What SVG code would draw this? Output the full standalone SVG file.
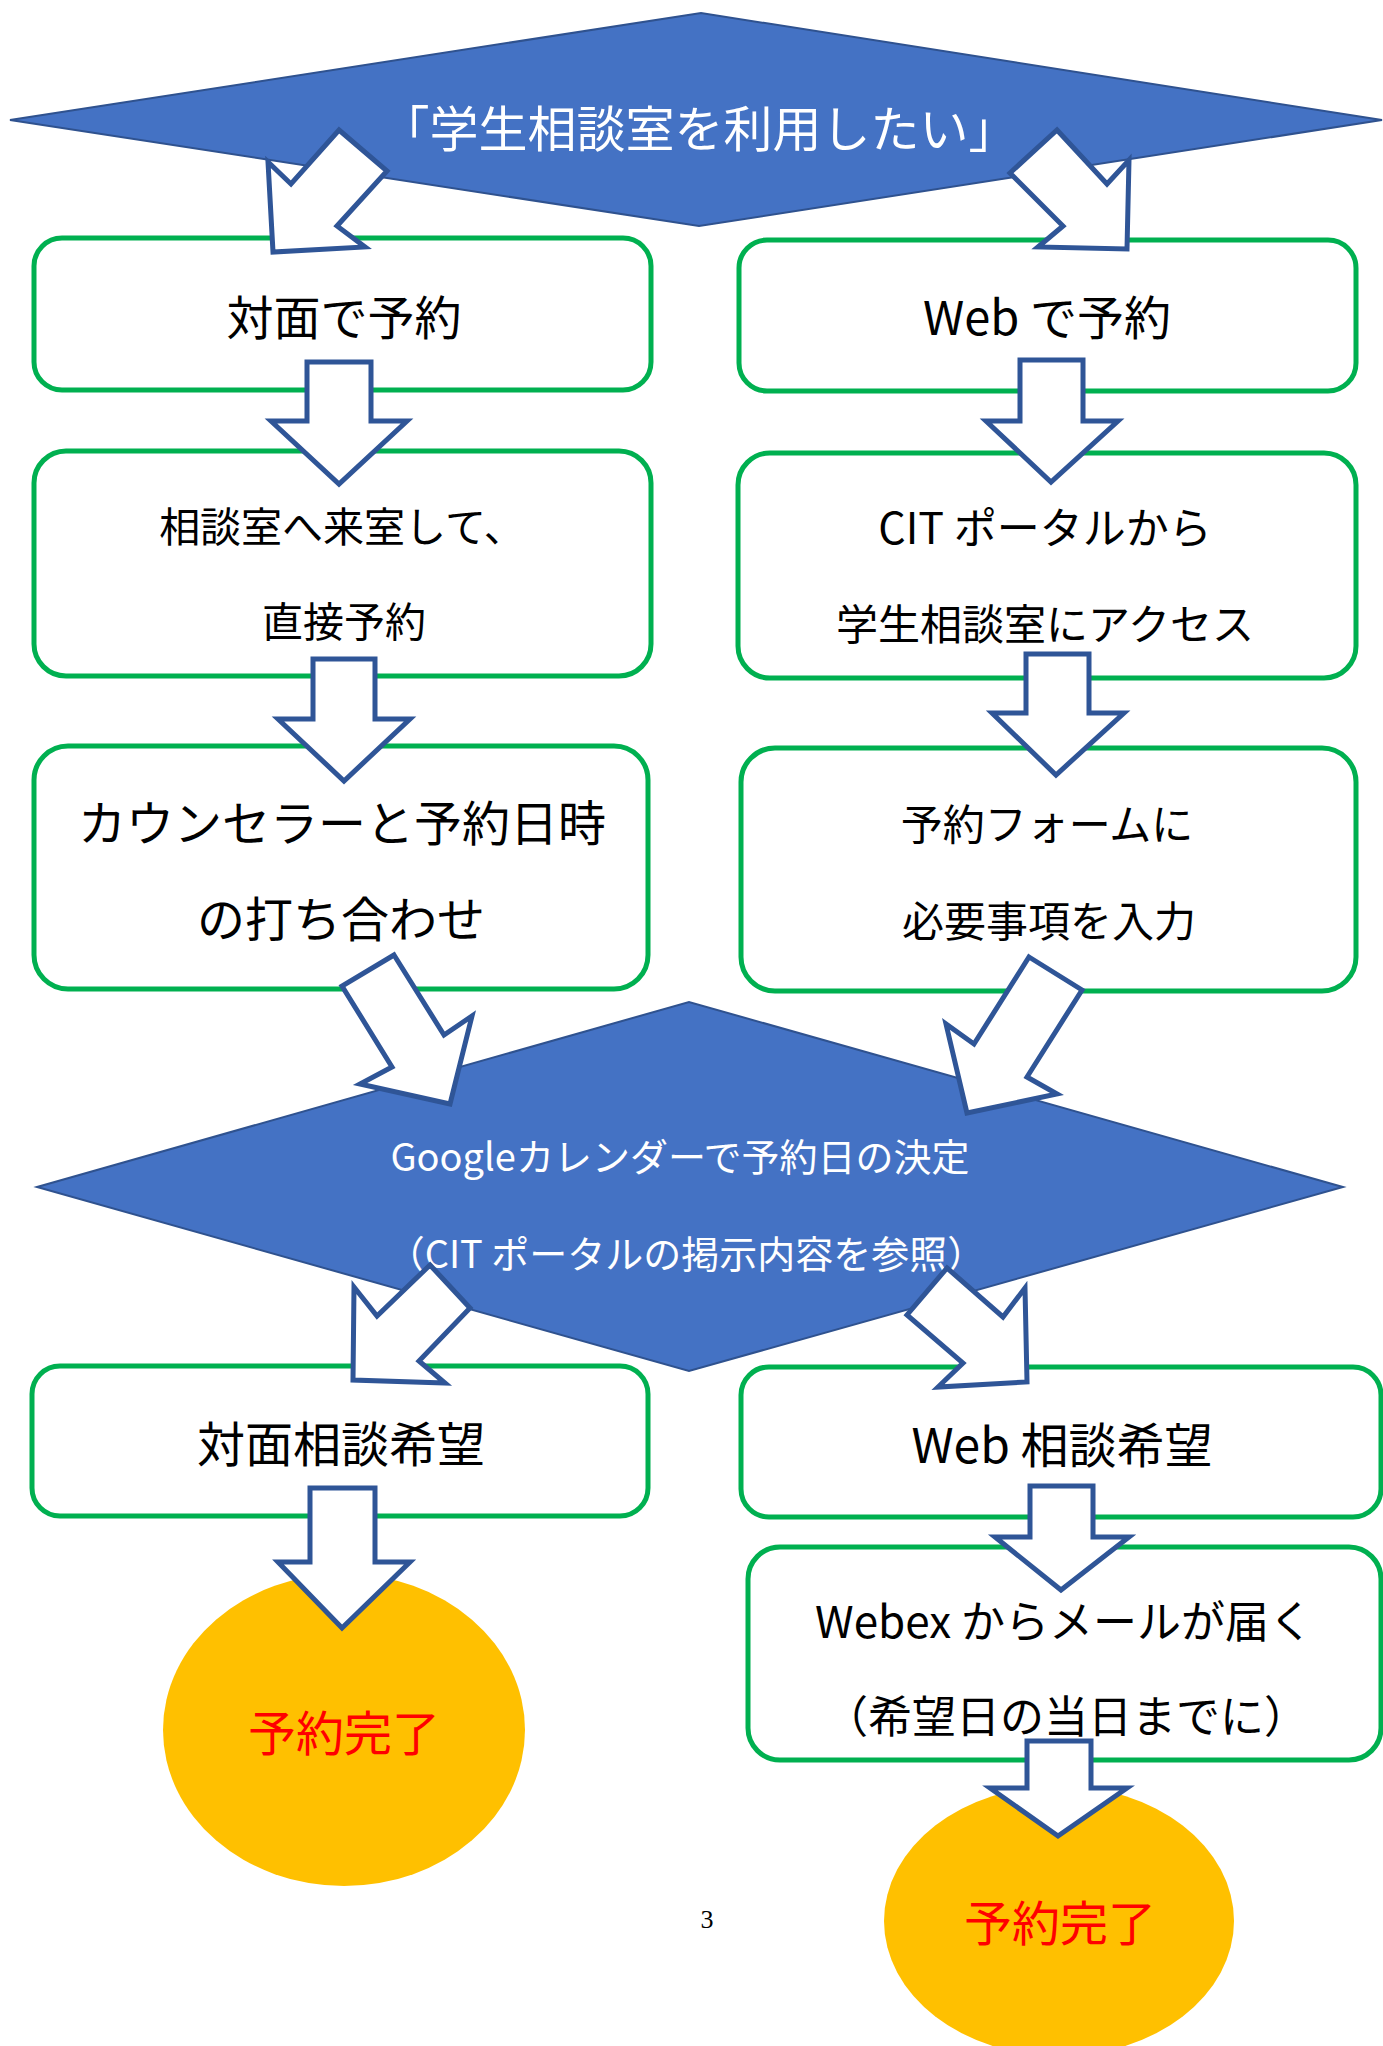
<svg xmlns="http://www.w3.org/2000/svg" width="1383" height="2046" viewBox="0 0 1383 2046">
<style>
.dia{fill:#4472C4;stroke:#2F528F;stroke-width:2}
.box{fill:#FFFFFF;stroke:#00B050;stroke-width:5}
.arr{fill:#FFFFFF;stroke:#2F5597;stroke-width:5;stroke-linejoin:miter}
.ell{fill:#FFC000}
.t{font-family:"Noto Sans CJK JP","Noto Sans",sans-serif;text-anchor:middle;dominant-baseline:central;fill:#000000}
.w{fill:#FFFFFF}
.r{fill:#FF0000}
</style>
<rect width="1383" height="2046" fill="#FFFFFF"/>
<g id="start">
<polygon class="dia" points="10,120 701,13 1382,120 699,226"/>
<text class="t w" x="699" y="125" font-size="49">「学生相談室を利用したい」</text>
</g>
<g id="box-face">
<rect class="box" x="34" y="238" width="617" height="152" rx="28"/>
<text class="t" x="344" y="314" font-size="47">対面で予約</text>
</g>
<g id="box-web">
<rect class="box" x="739" y="240" width="617" height="151" rx="28"/>
<text class="t" x="1047" y="314" font-size="47">Web で予約</text>
</g>
<g id="box-visit">
<rect class="box" x="34" y="451" width="617" height="225" rx="32"/>
<text class="t" x="342" y="524" font-size="41">相談室へ来室して、</text>
<text class="t" x="344" y="619" font-size="41">直接予約</text>
</g>
<g id="box-portal">
<rect class="box" x="738" y="453" width="618" height="225" rx="32"/>
<text class="t" x="1045" y="525" font-size="43">CIT ポータルから</text>
<text class="t" x="1045" y="621" font-size="42">学生相談室にアクセス</text>
</g>
<g id="box-counselor">
<rect class="box" x="34" y="746" width="614" height="243" rx="34"/>
<text class="t" x="342" y="820" font-size="48">カウンセラーと予約日時</text>
<text class="t" x="341" y="916" font-size="48">の打ち合わせ</text>
</g>
<g id="box-form">
<rect class="box" x="741" y="748" width="615" height="243" rx="34"/>
<text class="t" x="1047" y="821" font-size="42">予約フォームに</text>
<text class="t" x="1049" y="918" font-size="42">必要事項を入力</text>
</g>
<g id="box-face-consult">
<rect class="box" x="32" y="1366" width="616" height="150" rx="28"/>
<text class="t" x="341" y="1441" font-size="48">対面相談希望</text>
</g>
<g id="box-web-consult">
<rect class="box" x="741" y="1367" width="640" height="150" rx="28"/>
<text class="t" x="1062" y="1442" font-size="48">Web 相談希望</text>
</g>
<g id="decide">
<polygon class="dia" points="37,1187 689,1002 1343,1187 689,1371"/>
<text class="t w" x="680" y="1154" font-size="38">Googleカレンダーで予約日の決定</text>
<text class="t w" x="686" y="1251" font-size="38">（CIT ポータルの掲示内容を参照）</text>
</g>
<g id="box-webex">
<rect class="box" x="748" y="1547" width="633" height="213" rx="32"/>
<text class="t" x="1064" y="1619" font-size="44">Webex からメールが届く</text>
<text class="t" x="1066" y="1714" font-size="44">（希望日の当日までに）</text>
</g>
<g id="done-face">
<ellipse class="ell" cx="344" cy="1730" rx="181" ry="156"/>
<text class="t r" x="344" y="1730" font-size="48">予約完了</text>
</g>
<g id="done-web">
<ellipse class="ell" cx="1059" cy="1921" rx="175" ry="135"/>
<text class="t r" x="1060" y="1920" font-size="48">予約完了</text>
</g>
<text x="707" y="1928" font-family="'Liberation Serif',serif" font-size="26" text-anchor="middle" fill="#000000">3</text>
<g id="connectors">
<polygon class="arr" points="339,130 387,171 337,226 365,247 273,252 268,162 291,184"/>
<polygon class="arr" points="1057,130 1107,184 1129,160 1127,249 1038,247 1063,226 1010,173"/>
<polygon class="arr" points="307,362 371,362 371,421 407,421 339,484 271,421 307,421"/>
<polygon class="arr" points="1020,360 1083,360 1083,421 1118,421 1051,482 986,421 1020,421"/>
<polygon class="arr" points="313,659 375,659 375,719 410,719 344,781 278,719 313,719"/>
<polygon class="arr" points="1026,654 1089,654 1089,713 1124,713 1056,775 992,713 1026,713"/>
<polygon class="arr" points="394,955 444,1035 472,1016 450,1104 360,1084 392,1067 342,986"/>
<polygon class="arr" points="1029,957 1082,990 1027,1077 1057,1094 967,1113 946,1024 974,1044"/>
<polygon class="arr" points="430,1265 470,1308 419,1361 445,1383 353,1380 354,1287 377,1316"/>
<polygon class="arr" points="947,1268 1003,1317 1025,1288 1027,1382 938,1387 963,1363 907,1315"/>
<polygon class="arr" points="310,1488 375,1488 375,1562 410,1562 342,1628 278,1562 310,1562"/>
<polygon class="arr" points="1030,1486 1093,1486 1093,1537 1129,1537 1061,1590 995,1537 1030,1537"/>
<polygon class="arr" points="1027,1741 1091,1741 1091,1788 1127,1788 1058,1836 990,1788 1027,1788"/>
</g>
</svg>
